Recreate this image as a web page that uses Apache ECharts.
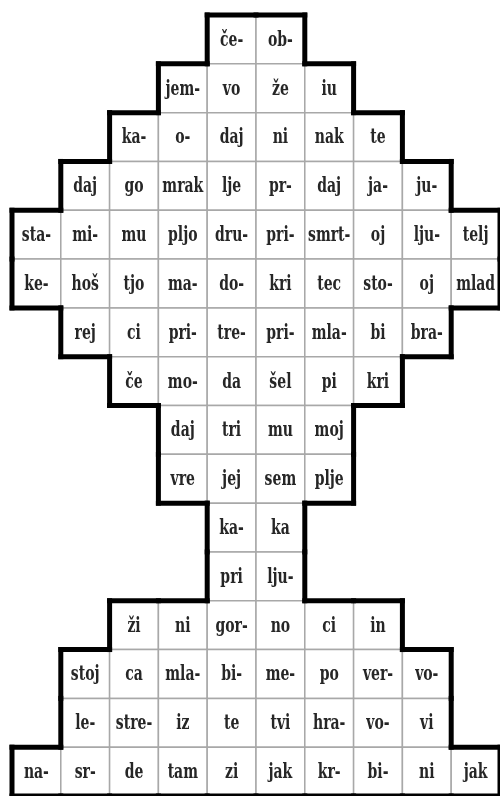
<!DOCTYPE html>
<html>
<head>
<meta charset="utf-8">
<script src="https://cdn.jsdelivr.net/npm/echarts@6/dist/echarts.min.js"></script>
<style>
  html, body { margin: 0; padding: 0; background: #fff; }
  #chart { width: 500px; height: 796px; }
</style>
</head>
<body>
<div id="chart"></div>
<script>
// syllables of each row, top to bottom
const rows = [
  ['če-', 'ob-'],
  ['jem-', 'vo', 'že', 'iu'],
  ['ka-', 'o-', 'daj', 'ni', 'nak', 'te'],
  ['daj', 'go', 'mrak', 'lje', 'pr-', 'daj', 'ja-', 'ju-'],
  ['sta-', 'mi-', 'mu', 'pljo', 'dru-', 'pri-', 'smrt-', 'oj', 'lju-', 'telj'],
  ['ke-', 'hoš', 'tjo', 'ma-', 'do-', 'kri', 'tec', 'sto-', 'oj', 'mlad'],
  ['rej', 'ci', 'pri-', 'tre-', 'pri-', 'mla-', 'bi', 'bra-'],
  ['če', 'mo-', 'da', 'šel', 'pi', 'kri'],
  ['daj', 'tri', 'mu', 'moj'],
  ['vre', 'jej', 'sem', 'plje'],
  ['ka-', 'ka'],
  ['pri', 'lju-'],
  ['ži', 'ni', 'gor-', 'no', 'ci', 'in'],
  ['stoj', 'ca', 'mla-', 'bi-', 'me-', 'po', 'ver-', 'vo-'],
  ['le-', 'stre-', 'iz', 'te', 'tvi', 'hra-', 'vo-', 'vi'],
  ['na-', 'sr-', 'de', 'tam', 'zi', 'jak', 'kr-', 'bi-', 'ni', 'jak']
];
// first column used by each row
const rowStart = [4, 3, 2, 1, 0, 0, 1, 2, 3, 3, 4, 4, 2, 1, 1, 0];

const COLS = 10;
const ROWS = rows.length;

// flatten into [col, row, syllable]
const cells = [];
rows.forEach((list, r) => {
  list.forEach((s, i) => cells.push([rowStart[r] + i, r, s]));
});
const taken = new Set(cells.map(c => c[0] + ':' + c[1]));
const has = (c, r) => taken.has(c + ':' + r);

function cellBox(api) {
  const c = api.value(0), r = api.value(1);
  const a = api.coord([c, r]);
  const b = api.coord([c + 1, r + 1]);
  return { c, r, x: a[0], y: a[1], w: b[0] - a[0], h: b[1] - a[1] };
}

function renderCell(params, api) {
  const b = cellBox(api);
  return {
    type: 'group',
    children: [
      {
        type: 'rect',
        shape: { x: b.x, y: b.y, width: b.w, height: b.h },
        style: { fill: '#fff', stroke: '#a8a8a8', lineWidth: 1.5 }
      },
      {
        type: 'text',
        x: b.x + b.w / 2,
        y: b.y + b.h / 2 + 1,
        scaleX: 0.74,
        style: {
          text: api.value(2),
          fill: '#262626',
          font: 'bold 21px "DejaVu Serif Condensed", "Liberation Serif", serif',
          align: 'center',
          verticalAlign: 'middle'
        }
      }
    ]
  };
}

// heavy outline wherever a cell has no neighbour
function renderEdge(params, api) {
  const b = cellBox(api);
  const lines = [];
  const push = (x1, y1, x2, y2) => lines.push({
    type: 'line',
    shape: { x1, y1, x2, y2 },
    style: { stroke: '#000', lineWidth: 5, lineCap: 'square' }
  });
  if (!has(b.c, b.r - 1)) push(b.x, b.y, b.x + b.w, b.y);
  if (!has(b.c, b.r + 1)) push(b.x, b.y + b.h, b.x + b.w, b.y + b.h);
  if (!has(b.c - 1, b.r)) push(b.x, b.y, b.x, b.y + b.h);
  if (!has(b.c + 1, b.r)) push(b.x + b.w, b.y, b.x + b.w, b.y + b.h);
  return { type: 'group', children: lines };
}

const chart = echarts.init(document.getElementById('chart'));
chart.setOption({
  animation: false,
  backgroundColor: '#fff',
  grid: { left: 12, top: 15, width: 493, height: 784 },
  xAxis: { type: 'value', min: 0, max: COLS, show: false },
  yAxis: { type: 'value', min: 0, max: ROWS, inverse: true, show: false },
  series: [
    {
      type: 'custom',
      renderItem: renderCell,
      data: cells,
      clip: false,
      z: 2
    },
    {
      type: 'custom',
      renderItem: renderEdge,
      data: cells,
      clip: false,
      z: 3,
      silent: true
    }
  ]
});
</script>
</body>
</html>
